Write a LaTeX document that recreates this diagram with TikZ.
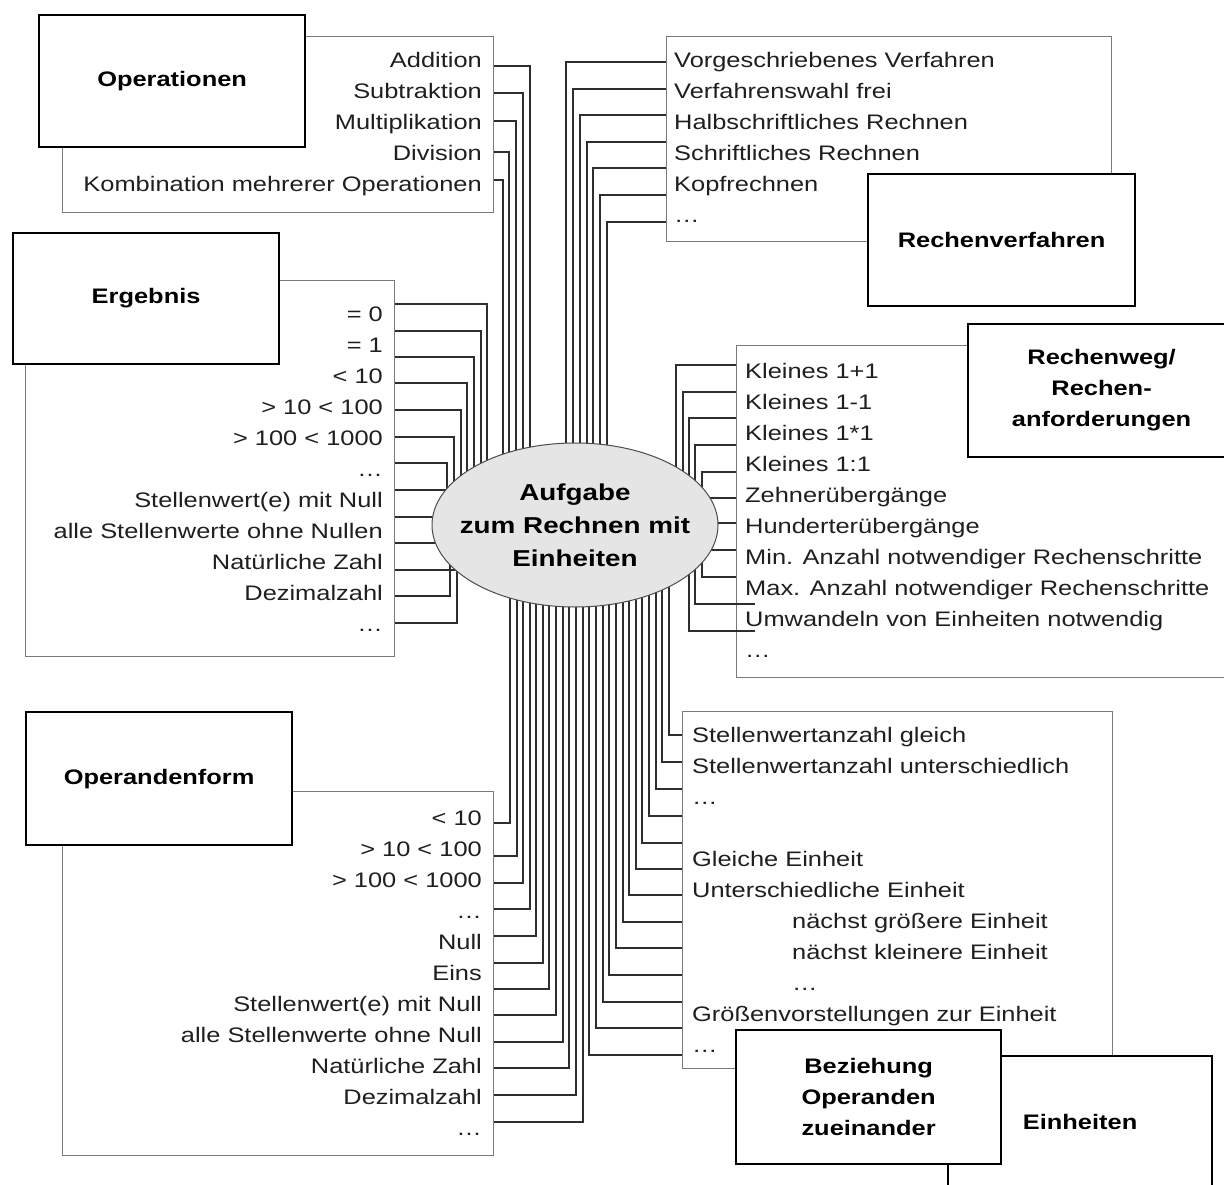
\documentclass[tikz,border=0pt]{standalone}
\usepackage{fontspec}
\setmainfont{Liberation Sans}[FakeStretch=1.21]
\usetikzlibrary{shapes.geometric,calc}
\pgfdeclarelayer{frames}
\pgfdeclarelayer{wires}
\pgfsetlayers{frames,wires,main}
\newcommand\itemfont{\fontsize{21}{31}\selectfont}
\newcommand\headfont{\fontsize{21}{31}\selectfont\bfseries}
\newcommand\taskfont{\fontsize{23}{33}\selectfont\bfseries}
\begin{document}
\begin{tikzpicture}[x=1pt,y=-1pt,
  listbox/.style={draw=black!52, line width=1.4pt, fill=white, anchor=north west, inner sep=0pt},
  headbox/.style={draw=black, line width=2.2pt, fill=white, anchor=north west, inner sep=0pt, align=center, font=\headfont},
  wire/.style={draw=black!82, line width=1.1pt},
  itemR/.style={anchor=base east, inner sep=0pt, font=\itemfont, text=black!88},
  itemL/.style={anchor=base west, inner sep=0pt, font=\itemfont, text=black!88}]

\path[use as bounding box] (0,0) rectangle (1224,1185);

% ---------- list frames (bottom layer)
\begin{pgfonlayer}{frames}
  \fill[white] (0,0) rectangle (1224,1185);
  \node[listbox, minimum width=431pt, minimum height=176pt] (opslist) at (62,36) {};
  \node[listbox, minimum width=369pt, minimum height=376pt] (erglist) at (25,280) {};
  \node[listbox, minimum width=431pt, minimum height=364pt] (opflist) at (62,791) {};
  \node[listbox, minimum width=445pt, minimum height=205pt] (rvlist) at (666,36) {};
  \node[listbox, minimum width=498pt, minimum height=332pt] (rwlist) at (736,345) {};
  \node[listbox, minimum width=430pt, minimum height=357pt] (bezlist) at (682,711) {};
\end{pgfonlayer}

% ---------- central task
\node[ellipse, draw=black!70, line width=1pt, fill=black!10,
      minimum width=286pt, minimum height=164pt, inner sep=0pt] (task) at (575,525) {};
\node[font=\taskfont, align=center, inner sep=0pt] (tasktext) at (task.center)
  {Aufgabe\\zum Rechnen mit\\Einheiten};

% ---------- connectors
\begin{pgfonlayer}{wires}
  % Operationen
  \foreach \y/\x in {66/530,93/523,121/516,152/509,180/503}
    \draw[wire] (opslist.east |- 0,\y) -| (\x,0 |- task.center);
  % Rechenverfahren
  \foreach \y/\x in {62/566,89/573,115/580,142/587,168/593,195/600,222/607}
    \draw[wire] (rvlist.west |- 0,\y) -| (\x,0 |- task.center);
  % Ergebnis
  \foreach \y/\x in {304/487,331/481,357/474,383/467,410/461,437/454,463/447,596/450,623/457}
    \draw[wire] (erglist.east |- 0,\y) -| (\x,0 |- task.center);
  \foreach \y in {490,517,543,570}
    \draw[wire] (erglist.east |- 0,\y) -- (task.center |- 0,\y);
  % Rechenweg / Rechenanforderungen
  \foreach \y/\x in {365/676,392/683,418/689,445/695,472/702,577/702}
    \draw[wire] (rwlist.west |- 0,\y) -| (\x,0 |- task.center);
  \foreach \y/\x in {604/695,631/689}
    \draw[wire] ($(rwlist.west |- 0,\y)+(19,0)$) -| (\x,0 |- task.center);
  \foreach \y in {498,523,550}
    \draw[wire] (rwlist.west |- 0,\y) -- (task.center |- 0,\y);
  % Operandenform
  \foreach \y/\x in {823/510,856/517,883/523,909/530,936/536,963/543,989/549,1015/556,1042/563,1068/569,1095/576,1122/583}
    \draw[wire] (opflist.east |- 0,\y) -| (\x,0 |- task.center);
  % Beziehung Operanden zueinander
  \foreach \y/\x in {735/669,762/662,789/656,816/649,843/642,869/636,895/629,922/623,948/616,975/609,1002/603,1028/596,1055/589}
    \draw[wire] (bezlist.west |- 0,\y) -| (\x,0 |- task.center);
\end{pgfonlayer}

% ---------- list entries
\foreach \t [count=\k from 0] in {Addition,Subtraktion,Multiplikation,Division,Kombination mehrerer Operationen}
  \node[itemR] (ops\k) at (482,{68+31*\k}) {\t};
\foreach \t [count=\k from 0] in {= 0,= 1,< 10,> 10 < 100,> 100 < 1000,…,Stellenwert(e) mit Null,alle Stellenwerte ohne Nullen,Natürliche Zahl,Dezimalzahl,…}
  \node[itemR] (erg\k) at (383,{321+31*\k}) {\t};
\foreach \t [count=\k from 0] in {< 10,> 10 < 100,> 100 < 1000,…,Null,Eins,Stellenwert(e) mit Null,alle Stellenwerte ohne Null,Natürliche Zahl,Dezimalzahl,…}
  \node[itemR] (opf\k) at (482,{825+31*\k}) {\t};
\foreach \t [count=\k from 0] in {Vorgeschriebenes Verfahren,Verfahrenswahl frei,Halbschriftliches Rechnen,Schriftliches Rechnen,Kopfrechnen,…}
  \node[itemL] (rv\k) at (674,{68+31*\k}) {\t};
\foreach \t [count=\k from 0] in {Kleines 1+1,Kleines 1-1,Kleines 1*1,Kleines 1:1,Zehnerübergänge,Hunderterübergänge,Min. Anzahl notwendiger Rechenschritte,Max. Anzahl notwendiger Rechenschritte,Umwandeln von Einheiten notwendig,…}
  \node[itemL] (rw\k) at (745,{378+31*\k}) {\t};
\node[itemL] (bez0) at (692,742) {Stellenwertanzahl gleich};
\node[itemL] (bez1) at (692,773) {Stellenwertanzahl unterschiedlich};
\node[itemL] (bez2) at (692,804) {…};
\node[itemL] (bez4) at (692,866) {Gleiche Einheit};
\node[itemL] (bez5) at (692,897) {Unterschiedliche Einheit};
\node[itemL] (bez6) at (792,928) {nächst größere Einheit};
\node[itemL] (bez7) at (792,959) {nächst kleinere Einheit};
\node[itemL] (bez8) at (792,990) {…};
\node[itemL] (bez9) at (692,1021) {Größenvorstellungen zur Einheit};
\node[itemL] (bez10) at (692,1052) {…};

% ---------- category headings
\node[headbox, minimum width=266pt, minimum height=132pt] (opshead) at (38,14) {Operationen};
\node[headbox, minimum width=266pt, minimum height=131pt] (erghead) at (12,232) {Ergebnis};
\node[headbox, minimum width=266pt, minimum height=133pt] (opfhead) at (25,711) {Operandenform};
\node[headbox, minimum width=267pt, minimum height=132pt] (rvhead) at (867,173) {Rechenverfahren};
\node[headbox, minimum width=267pt, minimum height=133pt] (rwhead) at (967,323) {Rechenweg/\\Rechen-\\anforderungen};
\node[headbox, minimum width=264pt, minimum height=132pt] (einhead) at (947,1055) {Einheiten};
\node[headbox, minimum width=265pt, minimum height=134pt] (bezhead) at (735,1029) {Beziehung\\Operanden\\zueinander};

\end{tikzpicture}
\end{document}
